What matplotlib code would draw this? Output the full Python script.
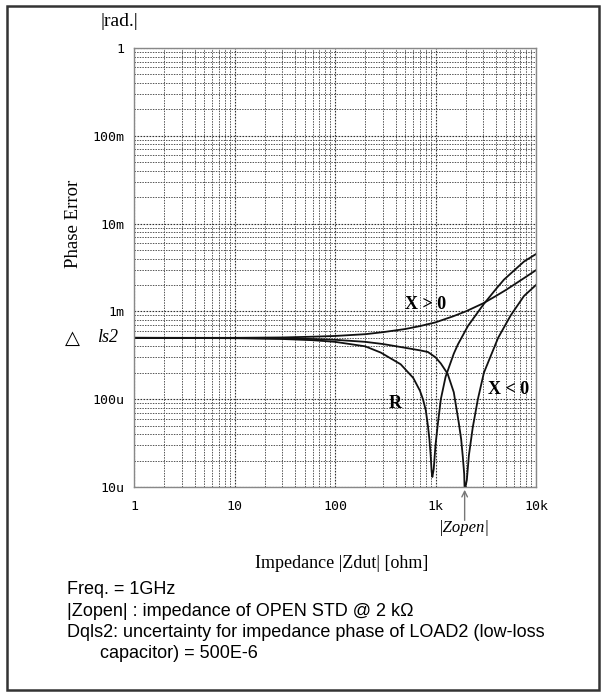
import matplotlib
matplotlib.use("Agg")
import matplotlib.pyplot as plt
from matplotlib.patches import Rectangle

# phase error vs |Zdut|
ls2 = 500e-6
zopen = 1950

z_xpos = [1, 10, 30, 60, 100, 200, 300, 500, 700, 1000, 1500, 2000, 3000,
          4000, 5000, 7000, 10000]
err_xpos = [5.0e-4, 5.0e-4, 5.05e-4, 5.15e-4, 5.25e-4, 5.5e-4, 5.8e-4, 6.3e-4,
            6.8e-4, 7.5e-4, 8.8e-4, 1.0e-3, 1.24e-3, 1.5e-3, 1.75e-3, 2.25e-3,
            2.95e-3]

z_r = [1, 10, 30, 60, 100, 200, 285, 450, 600, 700, 750, 800, 840, 870, 895,
       915, 930, 960, 1000, 1050, 1130, 1260, 1520, 1670, 2100, 2250, 3000,
       4000, 4800, 6000, 7600, 10000]
err_r = [5.0e-4, 4.95e-4, 4.85e-4, 4.7e-4, 4.5e-4, 4.0e-4, 3.4e-4, 2.5e-4,
         1.75e-4, 1.25e-4, 1.0e-4, 7.5e-5, 5.0e-5, 3.5e-5, 2.3e-5, 1.5e-5,
         1.3e-5, 1.6e-5, 3.0e-5, 5.0e-5, 1.0e-4, 1.8e-4, 3.3e-4, 4.2e-4,
         6.8e-4, 7.6e-4, 1.2e-3, 1.8e-3, 2.3e-3, 2.9e-3, 3.7e-3, 4.5e-3]

z_xneg = [1, 10, 30, 60, 100, 200, 300, 500, 700, 840, 1000, 1130, 1320, 1520,
          1700, 1800, 1870, 1930, 1950, 2050, 2150, 2350, 2640, 3030, 3500,
          4200, 5600, 7600, 10000]
err_xneg = [5.0e-4, 4.98e-4, 4.93e-4, 4.85e-4, 4.75e-4, 4.5e-4, 4.25e-4,
            3.85e-4, 3.6e-4, 3.45e-4, 3.0e-4, 2.55e-4, 1.95e-4, 1.2e-4, 5.5e-5,
            3.5e-5, 2.2e-5, 1.4e-5, 9.0e-6, 1.2e-5, 2.3e-5, 4.8e-5, 1.0e-4,
            2.0e-4, 3.0e-4, 5.0e-4, 9.0e-4, 1.5e-3, 2.0e-3]

xticks = [1, 10, 100, 1000, 10000]
xlabels = ["1", "10", "100", "1k", "10k"]
yticks = [1e-5, 1e-4, 1e-3, 1e-2, 1e-1, 1]
ylabels = ["10u", "100u", "1m", "10m", "100m", "1"]

notes = ["Freq. = 1GHz",
         "|Zopen| : impedance of OPEN STD @ 2 k\u03a9",
         "Dqls2: uncertainty for impedance phase of LOAD2 (low-loss",
         "capacitor) = 500E-6"]

serif = "Liberation Serif"
mono = "DejaVu Sans Mono"
sans = "Liberation Sans"

fig = plt.figure(figsize=(6.02, 6.94), dpi=100)
ax = fig.add_axes([134 / 602, 1 - 487 / 694, 402 / 602, 439 / 694])

for z, e in [(z_xpos, err_xpos), (z_r, err_r), (z_xneg, err_xneg)]:
    ax.plot(z, e, color="#111111", lw=1.3)

ax.set_xscale("log")
ax.set_yscale("log")
ax.set_xlim(1, 10000)
ax.set_ylim(1e-5, 1)

ax.set_xticks(xticks)
ax.set_xticklabels(xlabels, fontfamily=mono, fontsize=9.5)
ax.set_yticks(yticks)
ax.set_yticklabels(ylabels, fontfamily=mono, fontsize=9.5)
ax.tick_params(which="both", length=0)
ax.tick_params(axis="x", pad=9)
ax.tick_params(axis="y", pad=7)

ax.grid(True, which="major", color="#333333", lw=0.8, ls=(0, (1.5, 1.2)))
ax.grid(True, which="minor", color="#555555", lw=0.7, ls=(0, (1.5, 1.2)))
for s in ax.spines.values():
    s.set_color("#888888")
    s.set_linewidth(1.0)

# labels around the axes (pixel coords of the reference)
def ftext(px, py, s, **kw):
    fig.text(px / 602, 1 - py / 694, s, **kw)

ftext(119, 22, "|rad.|", family=serif, fontsize=14, ha="center", va="center")
ftext(73, 224, "Phase Error", family=serif, fontsize=13.5, rotation=90,
      ha="center", va="center")
ftext(72, 338, "\u25b3", family="DejaVu Sans", fontsize=14, ha="center",
      va="center")
ftext(108, 337, "ls2", family=serif, fontsize=13, style="italic",
      ha="center", va="center")
ftext(342, 563, "Impedance |Zdut| [ohm]", family=serif, fontsize=13,
      ha="center", va="center")

ax.text(800, 1.2e-3, "X > 0", family=serif, fontsize=13, fontweight="bold",
        ha="center", va="center")
ax.text(5300, 1.3e-4, "X < 0", family=serif, fontsize=13, fontweight="bold",
        ha="center", va="center")
ax.text(400, 9.0e-5, "R", family=serif, fontsize=13, fontweight="bold",
        ha="center", va="center")

ax.annotate("", xy=(zopen, 1e-5), xytext=(0, -26), textcoords="offset points",
            annotation_clip=False,
            arrowprops=dict(arrowstyle="->", color="#777777", lw=1.0))
ftext(464, 528, "|Zopen|", family=serif, fontsize=12, style="italic",
      ha="center", va="center")

for i, line in enumerate(notes):
    x0 = 100 if i == 3 else 67
    ftext(x0, 590 + 21.3 * i, line, family=sans, fontsize=13, ha="left",
          va="center")

fig.patches.append(Rectangle((7 / 602, 1 - 690 / 694), 592 / 602, 684 / 694,
                             transform=fig.transFigure, fill=False,
                             edgecolor="#333333", lw=1.8))

fig.savefig("out.png", dpi=100)
